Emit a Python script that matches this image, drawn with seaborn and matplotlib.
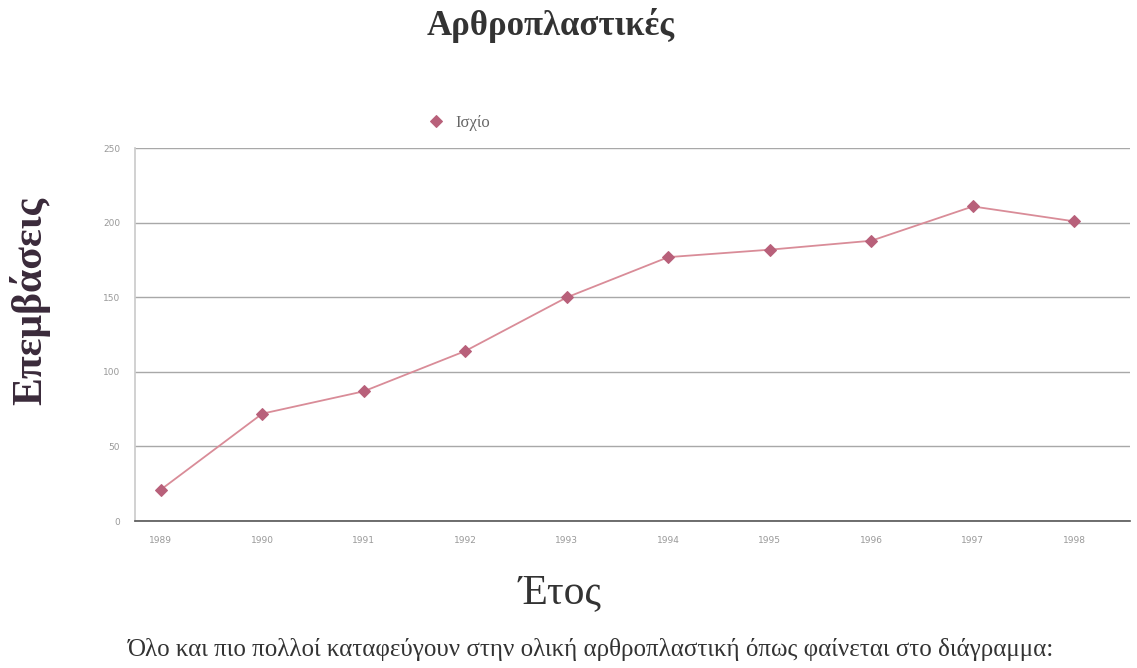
import matplotlib
matplotlib.use("Agg")
import matplotlib.pyplot as plt
import seaborn as sns
import pandas as pd

# Hip arthroplasty operations per year
years = [1989, 1990, 1991, 1992, 1993, 1994, 1995, 1996, 1997, 1998]
hip = [21, 72, 87, 114, 150, 177, 182, 188, 211, 201]
series_name = "Ισχίο"
y_ticks = [0, 50, 100, 150, 200, 250]

df = pd.DataFrame({"Έτος": years, "Επεμβάσεις": hip, "series": series_name})

sns.set_theme(style="white")
plt.rcParams["font.family"] = ["Liberation Serif", "DejaVu Serif"]

fig = plt.figure(figsize=(11.37, 6.68), dpi=100)
ax = fig.add_axes([0.119, 0.22, 0.875, 0.558])

sns.lineplot(data=df, x="Έτος", y="Επεμβάσεις", hue="series",
             palette=["#d98c98"], marker="D", markersize=6,
             markerfacecolor="#b8607a", markeredgecolor="#b8607a",
             linewidth=1.3, ax=ax)

ax.set_xlim(1988.75, 1998.55)
ax.set_ylim(0, 250)
ax.set_xticks(years)
ax.set_xticklabels([str(y) for y in years], fontsize=6.5, color="#999999",
                   family="DejaVu Sans")
ax.set_yticks(y_ticks)
ax.set_yticklabels([str(v) for v in y_ticks], fontsize=6.5, color="#999999",
                   family="DejaVu Sans")
ax.tick_params(axis="both", length=3, color="#aaaaaa", pad=8)
ax.yaxis.grid(True, color="#a8a8a8", linewidth=1.0)
ax.xaxis.grid(False)
for side in ["top", "right"]:
    ax.spines[side].set_visible(False)
ax.spines["left"].set_color("#cccccc")
ax.spines["bottom"].set_color("#555555")
ax.spines["bottom"].set_linewidth(1.2)

ax.set_xlabel("Έτος", fontsize=30, color="#333333")
ax.xaxis.set_label_coords(0.427, -0.14)
ax.set_ylabel("Επεμβάσεις", fontsize=30, fontweight="bold", color="#3a2a3a")
ax.yaxis.set_label_coords(-0.085, 0.59)

leg = ax.legend(loc="upper left", bbox_to_anchor=(0.28, 1.13), frameon=False,
                fontsize=12, handlelength=0.8, handletextpad=0.8)
for h in leg.legend_handles:
    h.set_linestyle("none")
for t in leg.get_texts():
    t.set_color("#666666")

fig.text(0.484, 0.962, "Αρθροπλαστικές", ha="center", va="center",
         fontsize=25, fontweight="bold", color="#333333")
fig.text(0.52, 0.027,
         "Όλο και πιο πολλοί καταφεύγουν στην ολική αρθροπλαστική όπως φαίνεται στο διάγραμμα:",
         ha="center", va="center", fontsize=18, color="#333333")

fig.savefig("out.png", dpi=100)
